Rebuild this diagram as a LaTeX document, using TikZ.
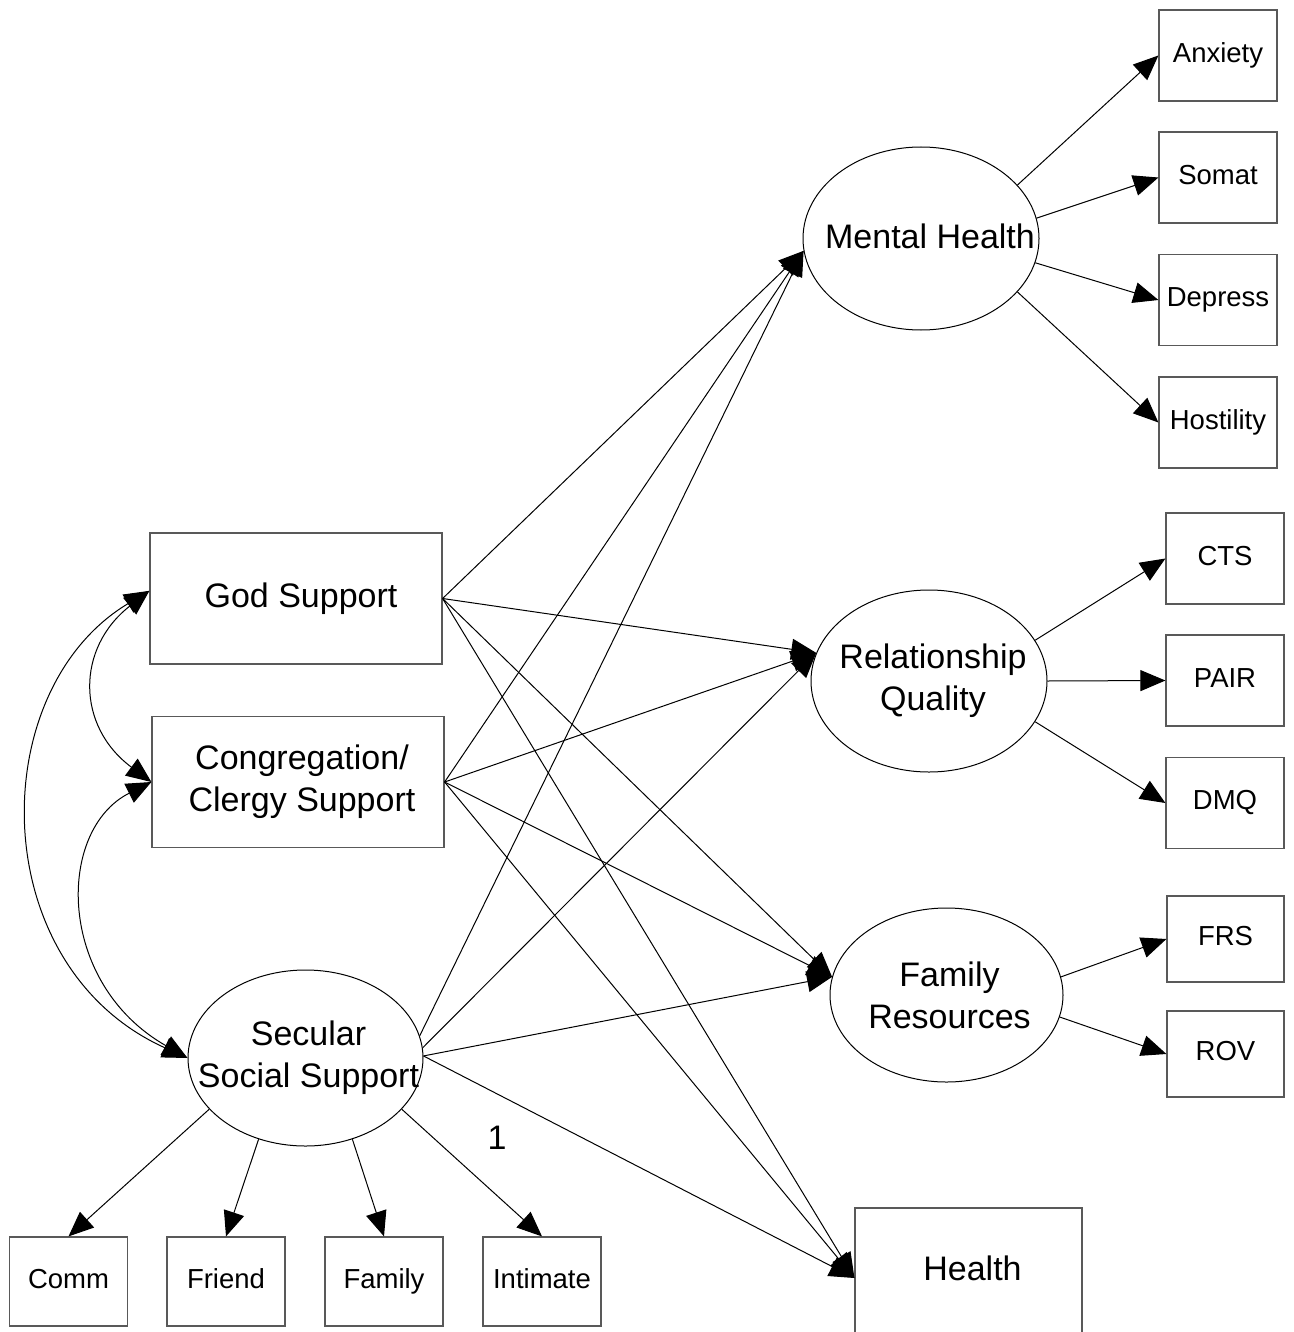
\documentclass[tikz,border=0pt]{standalone}
\usepackage{fontspec}
\setmainfont{Liberation Sans}
\usetikzlibrary{arrows.meta,shapes.geometric}
\newcommand\bigf{\fontsize{34}{42}\selectfont}
\newcommand\smf{\fontsize{27.5}{33}\selectfont}
\tikzset{
  bigtri/.tip={Triangle[length=25pt,width=21pt]},
  arr/.style={-bigtri, line width=1pt},
  dbl/.style={bigtri-bigtri, line width=1pt},
  obs/.style={draw=black!65, line width=1.2pt, inner sep=0pt, minimum width=118pt, minimum height=91pt, font=\smf, text height=19.7pt, text depth=5.8pt},
  bigbox/.style={draw=black!65, line width=1.2pt, inner sep=0pt, minimum width=292pt, minimum height=131pt, font=\bigf, align=center},
  lat/.style={draw, ellipse, line width=1pt, inner sep=0pt},
  txt/.style={font=\bigf, align=center}
}
\begin{document}
\begin{tikzpicture}[x=1pt,y=-1pt]
\useasboundingbox (0,0) rectangle (1293,1332);
% latent variables
\node[lat, minimum width=236pt, minimum height=183pt, label={[txt, xshift=9pt, yshift=2pt]center:Mental Health}] (mh) at (921,238.5) {};
\node[lat, minimum width=236pt, minimum height=182pt, label={[txt, xshift=4pt]center:Relationship\\Quality}] (rq) at (929,681) {};
\node[lat, minimum width=233pt, minimum height=174pt, label={[txt, xshift=3pt]center:Family\\Resources}] (fr) at (946.5,995) {};
\node[lat, minimum width=235pt, minimum height=176pt, label={[txt, xshift=3pt]center:Secular\\Social Support}] (sec) at (305.5,1058) {};
% predictor boxes
\node[bigbox] (god) at (296,598.5) {\hspace*{10pt}God Support};
\node[bigbox] (cong) at (298,782) {\hspace*{8pt}Congregation/\\\hspace*{8pt}Clergy Support};
\node[draw=black!65, line width=1.2pt, inner sep=0pt, minimum width=227pt, minimum height=140pt, label={[txt, yshift=10pt, xshift=4pt]center:Health}] (health) at (968.5,1278) {};
% indicators
\node[obs] (anx) at (1218,55.5) {Anxiety};
\node[obs] (som) at (1218,177.5) {Somat};
\node[obs] (dep) at (1218,300) {Depress};
\node[obs] (hos) at (1218,422.5) {Hostility};
\node[obs] (cts) at (1225,558.5) {CTS};
\node[obs] (pair) at (1225,680.5) {PAIR};
\node[obs] (dmq) at (1225,803) {DMQ};
\node[obs, minimum width=117pt, minimum height=86pt] (frs) at (1225.5,939) {FRS};
\node[obs, minimum width=117pt, minimum height=86pt] (rov) at (1225.5,1054) {ROV};
\node[obs, minimum height=89pt] (comm) at (68.5,1281.5) {Comm};
\node[obs, minimum height=89pt] (friend) at (226,1281.5) {Friend};
\node[obs, minimum height=89pt] (family) at (384,1281.5) {Family};
\node[obs, minimum height=89pt] (intim) at (542,1281.5) {Intimate};
\node[txt] (one) at (497,1138) {1};
% measurement arrows
\draw[arr] (mh.29) -- (anx.west);
\draw[arr] (mh.10) -- (som.west);
\draw[arr] (mh.348) -- (dep.west);
\draw[arr] (mh.331) -- (hos.west);
\draw[arr] (rq.21) -- (cts.west);
\draw[arr] (rq.0) -- (pair.west);
\draw[arr] (rq.339) -- (dmq.west);
\draw[arr] (fr.9) -- (frs.west);
\draw[arr] (fr.349) -- (rov.west);
\draw[arr] (sec.208) -- (comm.north);
\draw[arr] (sec.240) -- (friend.north);
\draw[arr] (sec.300) -- (family.north);
\draw[arr] (sec.332) -- (intim.north);
% structural arrows
\foreach \s in {god,cong}{
  \draw[arr] (\s.east) -- (mh.186);
  \draw[arr] (\s.east) -- (rq.166);
  \draw[arr] (\s.east) -- (fr.171);
  \draw[arr] (\s.east) -- (health.west);
}
\draw[arr] (sec.11) -- (mh.186);
\draw[arr] (sec.5) -- (rq.166);
\draw[arr] (sec.1.5) -- (fr.171);
\draw[arr] (sec.1.5) -- (health.west);
% covariances
\draw[dbl] (god.177) .. controls (76,648) and (76,726) .. (cong.west);
\draw[dbl] (god.177) .. controls (-16,690) and (-16,966) .. (sec.west);
\draw[dbl] (cong.west) .. controls (56,830) and (56,983) .. (sec.west);
\end{tikzpicture}
\end{document}
